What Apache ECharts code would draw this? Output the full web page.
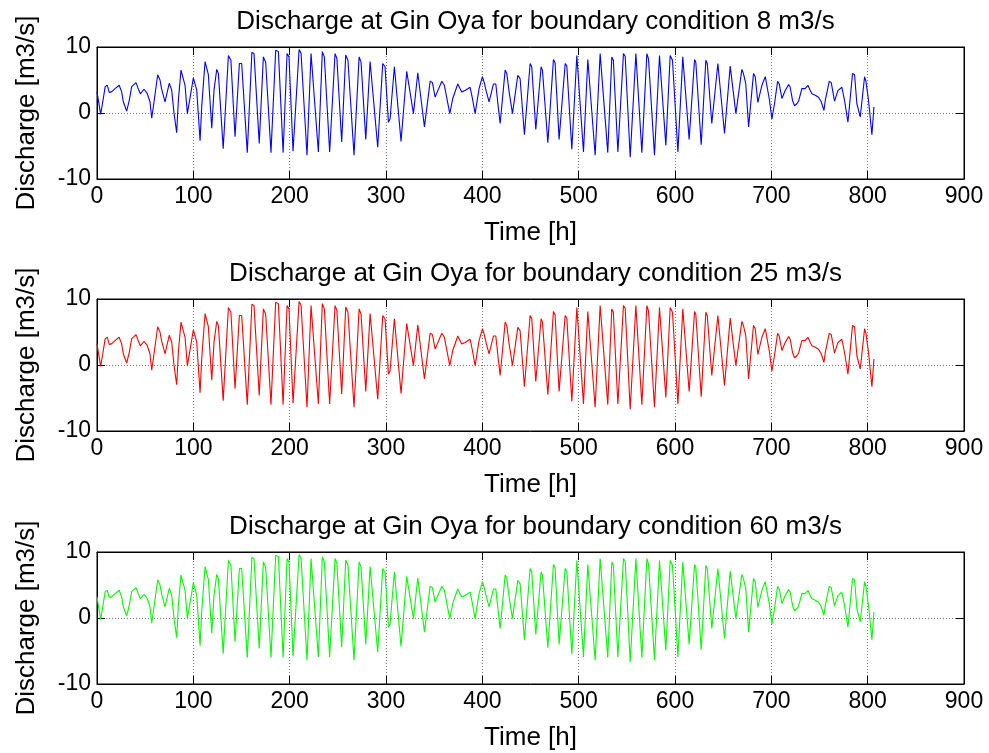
<!DOCTYPE html>
<html>
<head>
<meta charset="utf-8">
<script src="https://cdn.jsdelivr.net/npm/echarts@6/dist/echarts.min.js"></script>
<style>
  html, body { margin: 0; padding: 0; background: #fff; }
  #chart { width: 989px; height: 753px; }
</style>
</head>
<body>
<div id="chart"></div>
<script>
// Simulated discharge at Gin Oya (hourly model output, vertices of the curve)
const hours = [
  0, 3.8, 6, 8.5, 10.7, 12.8, 15, 18.7, 23, 25.6, 27.3, 30.8, 33.6, 36, 40.5, 42.5, 45, 48.8, 52, 55,
  56.8, 59.2, 63, 65.4, 67, 70.6, 75, 77.5, 80, 82.7, 84.5, 87.2, 89, 91.4, 93.8, 96, 100, 101.8, 103.5, 107,
  108.7, 112.2, 115.6, 119.1, 121.5, 124.3, 126, 131, 136.4, 139, 143.3, 147.8, 150.2, 156, 160.8, 163, 168.4, 172.7, 175.1, 180.6,
  185.5, 188.3, 193.2, 197.3, 199.3, 203.5, 205.5, 209.8, 211.8, 218, 222.2, 223.9, 229.8, 233.9, 236, 241.5, 243.5, 247.1, 249, 254,
  258.2, 260.5, 266.8, 272.1, 274.1, 279, 283.5, 285.2, 291.4, 296.6, 299, 302.5, 304.2, 308.7, 310, 315.6, 321.5, 323.2, 328.5, 333,
  334.5, 339.9, 345.8, 348.2, 351, 352.7, 357.9, 360.6, 366.2, 369.3, 374.5, 378.6, 382.1, 387.3, 389.7, 392.5, 396.6, 400.1, 402, 404,
  407, 411.6, 414, 416.7, 418.5, 420.2, 423.7, 425.4, 427.8, 431.3, 436.8, 439.2, 443.7, 449.6, 451.3, 455.5, 461, 462.4, 468, 473.8,
  475.5, 479.7, 486, 487.7, 492.9, 498.1, 499.8, 505, 509.5, 510.8, 517.1, 522.3, 524, 530.2, 534.4, 536, 540.7, 546.5, 548.3, 553.5,
  559.4, 561.4, 565.6, 570.8, 572.5, 578.7, 583.9, 585.6, 590.5, 595, 597.4, 603, 608.1, 609.5, 614.7, 620.3, 621.6, 627.2, 632, 633.5,
  638.2, 644.5, 645.8, 651.4, 657.3, 659, 663.2, 664.6, 669.4, 671, 673.5, 676.4, 681.5, 683.3, 686, 687.4, 690.2, 693.7, 695.4, 697.8,
  700.6, 703.3, 706.5, 708.2, 711, 714.4, 717.9, 719.6, 722, 724.1, 726.5, 728.3, 731.7, 735, 738, 740.4, 742.1, 744, 745.6, 749,
  751.8, 754.6, 756, 760.1, 762.2, 765.6, 769.1, 773.2, 776, 779.5, 784.3, 786.4, 788.8, 792.3, 796.8, 798.2, 800.9, 804.4, 806.5
];

const q8 = [
  3.2, -0.2, 1.7, 4.0, 4.2, 3.1, 3.2, 3.7, 4.2, 3.2, 1.7, 0.3, 2.0, 4.0, 4.6, 3.8, 2.9, 3.6, 3.0, 1.7,
  -0.8, 1.7, 5.8, 5.0, 3.7, 1.7, 4.5, 3.5, -0.1, -3.0, 2.0, 6.5, 6.3, 4.2, -0.1, 1.8, 5.3, 5.2, 3.5, -4.2,
  1.0, 7.8, 5.8, -2.3, 3.5, 6.6, 6.0, -5.4, 8.7, 8.0, -3.6, 7.5, 7.5, -6.0, 9.2, 9.0, -4.6, 8.5, 7.7, -6.0,
  9.5, 9.3, -6.0, 9.0, 8.5, -5.8, -5.8, 9.6, 9.1, -6.4, 9.0, 9.0, -5.9, 9.3, 8.5, -5.9, -5.9, 9.0, 8.3, -4.4,
  8.8, 8.0, -6.4, 8.5, 7.7, -4.0, 7.8, 7.8, -5.2, 7.5, 7.0, -1.4, -0.9, 7.0, 6.8, -4.3, 6.3, 6.1, -0.1, 6.1,
  5.8, -2.1, 4.8, 4.6, 2.4, 2.1, 4.8, 4.2, -0.1, 2.2, 4.4, 3.2, 3.4, 3.9, 2.2, -0.1, 3.7, 5.5, 4.6, 3.3,
  1.7, 4.4, 4.4, 0.7, -1.6, -1.6, 6.5, 6.0, 3.2, -0.1, 5.7, 5.2, -3.3, 7.5, 7.0, -2.5, 7.0, 6.5, -4.5, 8.1,
  7.6, -4.0, 7.5, 7.1, -5.5, 8.7, 8.6, -5.9, 8.1, 8.1, -6.4, 9.0, 8.7, -6.0, 8.5, 8.0, -5.9, 9.0, 8.6, -6.7,
  9.0, 8.7, -6.0, 9.0, 8.2, -6.4, 8.7, 8.5, -4.9, 8.7, 8.0, -5.9, 8.5, 8.2, -4.0, 8.1, 7.7, -4.8, 8.0, 7.5,
  -1.6, 7.5, 7.3, -3.1, 7.1, 7.0, -0.1, -0.1, 6.6, 6.0, 4.4, -2.1, 6.0, 5.5, 1.6, 1.3, 4.2, 5.5, 5.2, 2.2,
  -0.9, 1.4, 4.8, 4.4, 2.2, 3.4, 4.3, 3.9, 1.9, 1.1, 1.4, 1.8, 3.7, 3.7, 4.2, 3.4, 2.9, 3.2, 2.7, 2.4,
  1.7, 0.4, 1.9, 4.8, 4.6, 1.8, 3.4, 3.9, 1.9, -1.4, 6.0, 5.8, 1.4, -0.6, 5.5, 4.8, 1.9, -3.3, 0.9
];
// The three boundary conditions give the same discharge curve at this resolution
const q25 = q8;
const q60 = q8;

const boundaryLabels = ['8 m3/s', '25 m3/s', '60 m3/s'];
const seriesValues = [q8, q25, q60];
const lineColors = ['#0000FF', '#FF0000', '#00FF00'];
const xTicks = { min: 0, max: 900, interval: 100 };
const yTicks = { min: -10, max: 10, interval: 10 };

const FONT = "'Liberation Sans', Arial, Helvetica, sans-serif";
const panelTops = [47, 299, 552];
const panelHeight = 132;
const plotLeft = 97;
const plotWidth = 867;

const grids = [], xAxes = [], yAxes = [], series = [], titles = [];

panelTops.forEach((top, i) => {
  grids.push({ left: plotLeft, top: top, width: plotWidth, height: panelHeight,
               show: true, borderColor: '#000', borderWidth: 1, backgroundColor: '#fff' });

  titles.push({
    text: 'Discharge at Gin Oya for boundary condition ' + boundaryLabels[i],
    left: plotLeft + plotWidth / 2, top: top - 43, textAlign: 'center',
    textStyle: { fontFamily: FONT, fontSize: 26, fontWeight: 'normal', color: '#000' }
  });

  const gridLine = { show: true, lineStyle: { color: '#7a7a7a', type: [1, 2], width: 1 } };
  const tick = { show: true, inside: true, length: 8, lineStyle: { color: '#000' } };

  // bottom axis with labels
  xAxes.push({
    type: 'value', gridIndex: i, position: 'bottom', ...xTicks,
    name: 'Time [h]', nameLocation: 'middle', nameGap: 41,
    nameTextStyle: { fontFamily: FONT, fontSize: 26, color: '#000' },
    axisLine: { show: true, onZero: false, lineStyle: { color: '#000' } },
    axisTick: tick,
    axisLabel: { fontFamily: FONT, fontSize: 23, color: '#000', margin: 6 },
    splitLine: gridLine
  });
  // mirrored ticks along the top edge
  xAxes.push({
    type: 'value', gridIndex: i, position: 'top', ...xTicks,
    axisLine: { show: true, onZero: false, lineStyle: { color: '#000' } },
    axisTick: tick, axisLabel: { show: false }, splitLine: { show: false }
  });

  yAxes.push({
    type: 'value', gridIndex: i, position: 'left', ...yTicks,
    name: 'Discharge [m3/s]', nameLocation: 'middle', nameGap: 57,
    nameTextStyle: { fontFamily: FONT, fontSize: 26, color: '#000' },
    axisLine: { show: true, onZero: false, lineStyle: { color: '#000' } },
    axisTick: tick,
    axisLabel: { fontFamily: FONT, fontSize: 23, color: '#000', margin: 6 },
    splitLine: gridLine
  });
  yAxes.push({
    type: 'value', gridIndex: i, position: 'right', ...yTicks,
    axisLine: { show: true, onZero: false, lineStyle: { color: '#000' } },
    axisTick: tick, axisLabel: { show: false }, splitLine: { show: false }
  });

  series.push({
    type: 'line', xAxisIndex: 2 * i, yAxisIndex: 2 * i,
    data: hours.map((h, k) => [h, seriesValues[i][k]]),
    showSymbol: false, symbol: 'none',
    lineStyle: { color: lineColors[i], width: 1.1 },
    z: 5
  });
});

const chart = echarts.init(document.getElementById('chart'), null, { renderer: 'canvas' });
chart.setOption({
  animation: false,
  backgroundColor: '#fff',
  title: titles,
  grid: grids,
  xAxis: xAxes,
  yAxis: yAxes,
  series: series
});
</script>
</body>
</html>
